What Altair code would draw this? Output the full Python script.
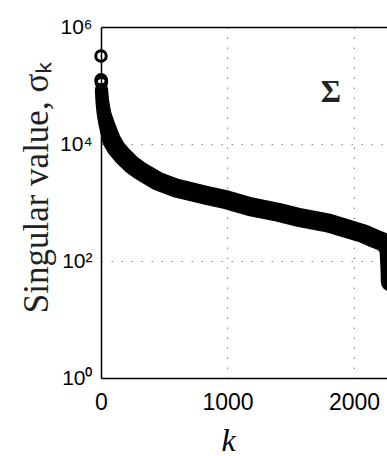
import altair as alt
import pandas as pd

# Dense band of singular values
band_k = [4, 6, 10, 16, 25, 47, 83, 120, 174, 240, 308, 443, 600, 838, 1000,
          1178, 1400, 1573, 1800, 2071, 2166, 2245, 2277, 2285, 2287]
band_sigma = [8.5e4, 7.1e4, 5.5e4, 4.3e4, 3.2e4, 2.1e4, 1.17e4, 8.5e3, 6.2e3,
              4.5e3, 3.5e3, 2.35e3, 1.75e3, 1.32e3, 1.1e3, 850, 680, 550, 445,
              295, 240, 205, 155, 70, 44]

# Leading singular values drawn as separate open circles
lead_k = [0, 1, 2, 3]
lead_sigma = [3.2e5, 1.25e5, 1.2e5, 1.12e5]

x_ticks = [0, 1000, 2000]
y_ticks = [1, 100, 10000, 1000000]

band = pd.DataFrame({"k": band_k, "sigma": band_sigma})
lead = pd.DataFrame({"k": lead_k, "sigma": lead_sigma})
note = pd.DataFrame({"k": [1818], "sigma": [7.4e4], "label": ["Σ"]})

W, H = 286, 351
x_scale = alt.Scale(domain=[0, 2261], nice=False, zero=False)
y_scale = alt.Scale(type="log", domain=[1, 1e6], nice=False)

grid_style = dict(grid=True, gridColor="#8c8c8c", gridDash=[1.5, 8.5], gridWidth=1.2)

x_axis = alt.Axis(values=x_ticks, title="k", ticks=False, tickSize=0, format="d",
                  labelFont="Liberation Sans", labelFontSize=23, labelColor="black",
                  labelPadding=13, labelFlush=False,
                  titleFont="Liberation Serif", titleFontStyle="italic",
                  titleFontWeight="normal", titleFontSize=32, titleColor="black",
                  titleX=127, titleY=72, titleBaseline="alphabetic", titleAlign="center",
                  domainColor="black", domainWidth=1.5, **grid_style)

y_axis = alt.Axis(values=y_ticks, title="Singular value, σₖ", ticks=False, tickSize=0,
                  labelExpr="datum.value == 1 ? '10⁰' : datum.value == 100 ? '10²' : datum.value == 10000 ? '10⁴' : '10⁶'",
                  labelFont="Liberation Sans", labelFontSize=21, labelColor="black",
                  labelPadding=9, labelFlush=False,
                  titleFont="Liberation Serif", titleFontWeight="normal",
                  titleFontSize=35, titleColor="#222222",
                  titleAngle=-90, titleX=-54, titleY=160, titleAlign="center",
                  titleBaseline="alphabetic",
                  domainColor="black", domainWidth=1.5, **grid_style)

top_axis = alt.Axis(orient="top", labels=False, ticks=False, grid=False, title=None,
                    domainColor="black", domainWidth=1.5)

trail = alt.Chart(band).transform_calculate(
    w="13 + 6 * min(1, datum.k / 80)"
).mark_trail(color="black").encode(
    x=alt.X("k:Q", scale=x_scale, axis=x_axis),
    y=alt.Y("sigma:Q", scale=y_scale, axis=y_axis),
    size=alt.Size("w:Q", scale=None, legend=None),
    order="k:Q",
)

points = alt.Chart(lead).mark_point(
    shape="circle", filled=False, color="black", strokeWidth=3, size=110, opacity=1
).encode(
    x=alt.X("k:Q", scale=x_scale, axis=top_axis),
    y=alt.Y("sigma:Q", scale=y_scale),
)

sigma_text = alt.Chart(note).mark_text(
    font="Liberation Serif", fontWeight="bold", fontSize=31, color="#222222",
    align="center", baseline="middle"
).encode(
    x=alt.X("k:Q", scale=x_scale, axis=None),
    y=alt.Y("sigma:Q", scale=y_scale),
    text="label:N",
)

chart = alt.layer(trail, points, sigma_text).resolve_axis(
    x="independent"
).properties(
    width=W, height=H,
    autosize=alt.AutoSizeParams(type="none"),
    padding={"left": 101, "top": 27, "right": 0, "bottom": 78},
    background="white",
).configure_view(stroke=None)

chart.save("out.html", embed_options={"renderer": "svg", "actions": False})
